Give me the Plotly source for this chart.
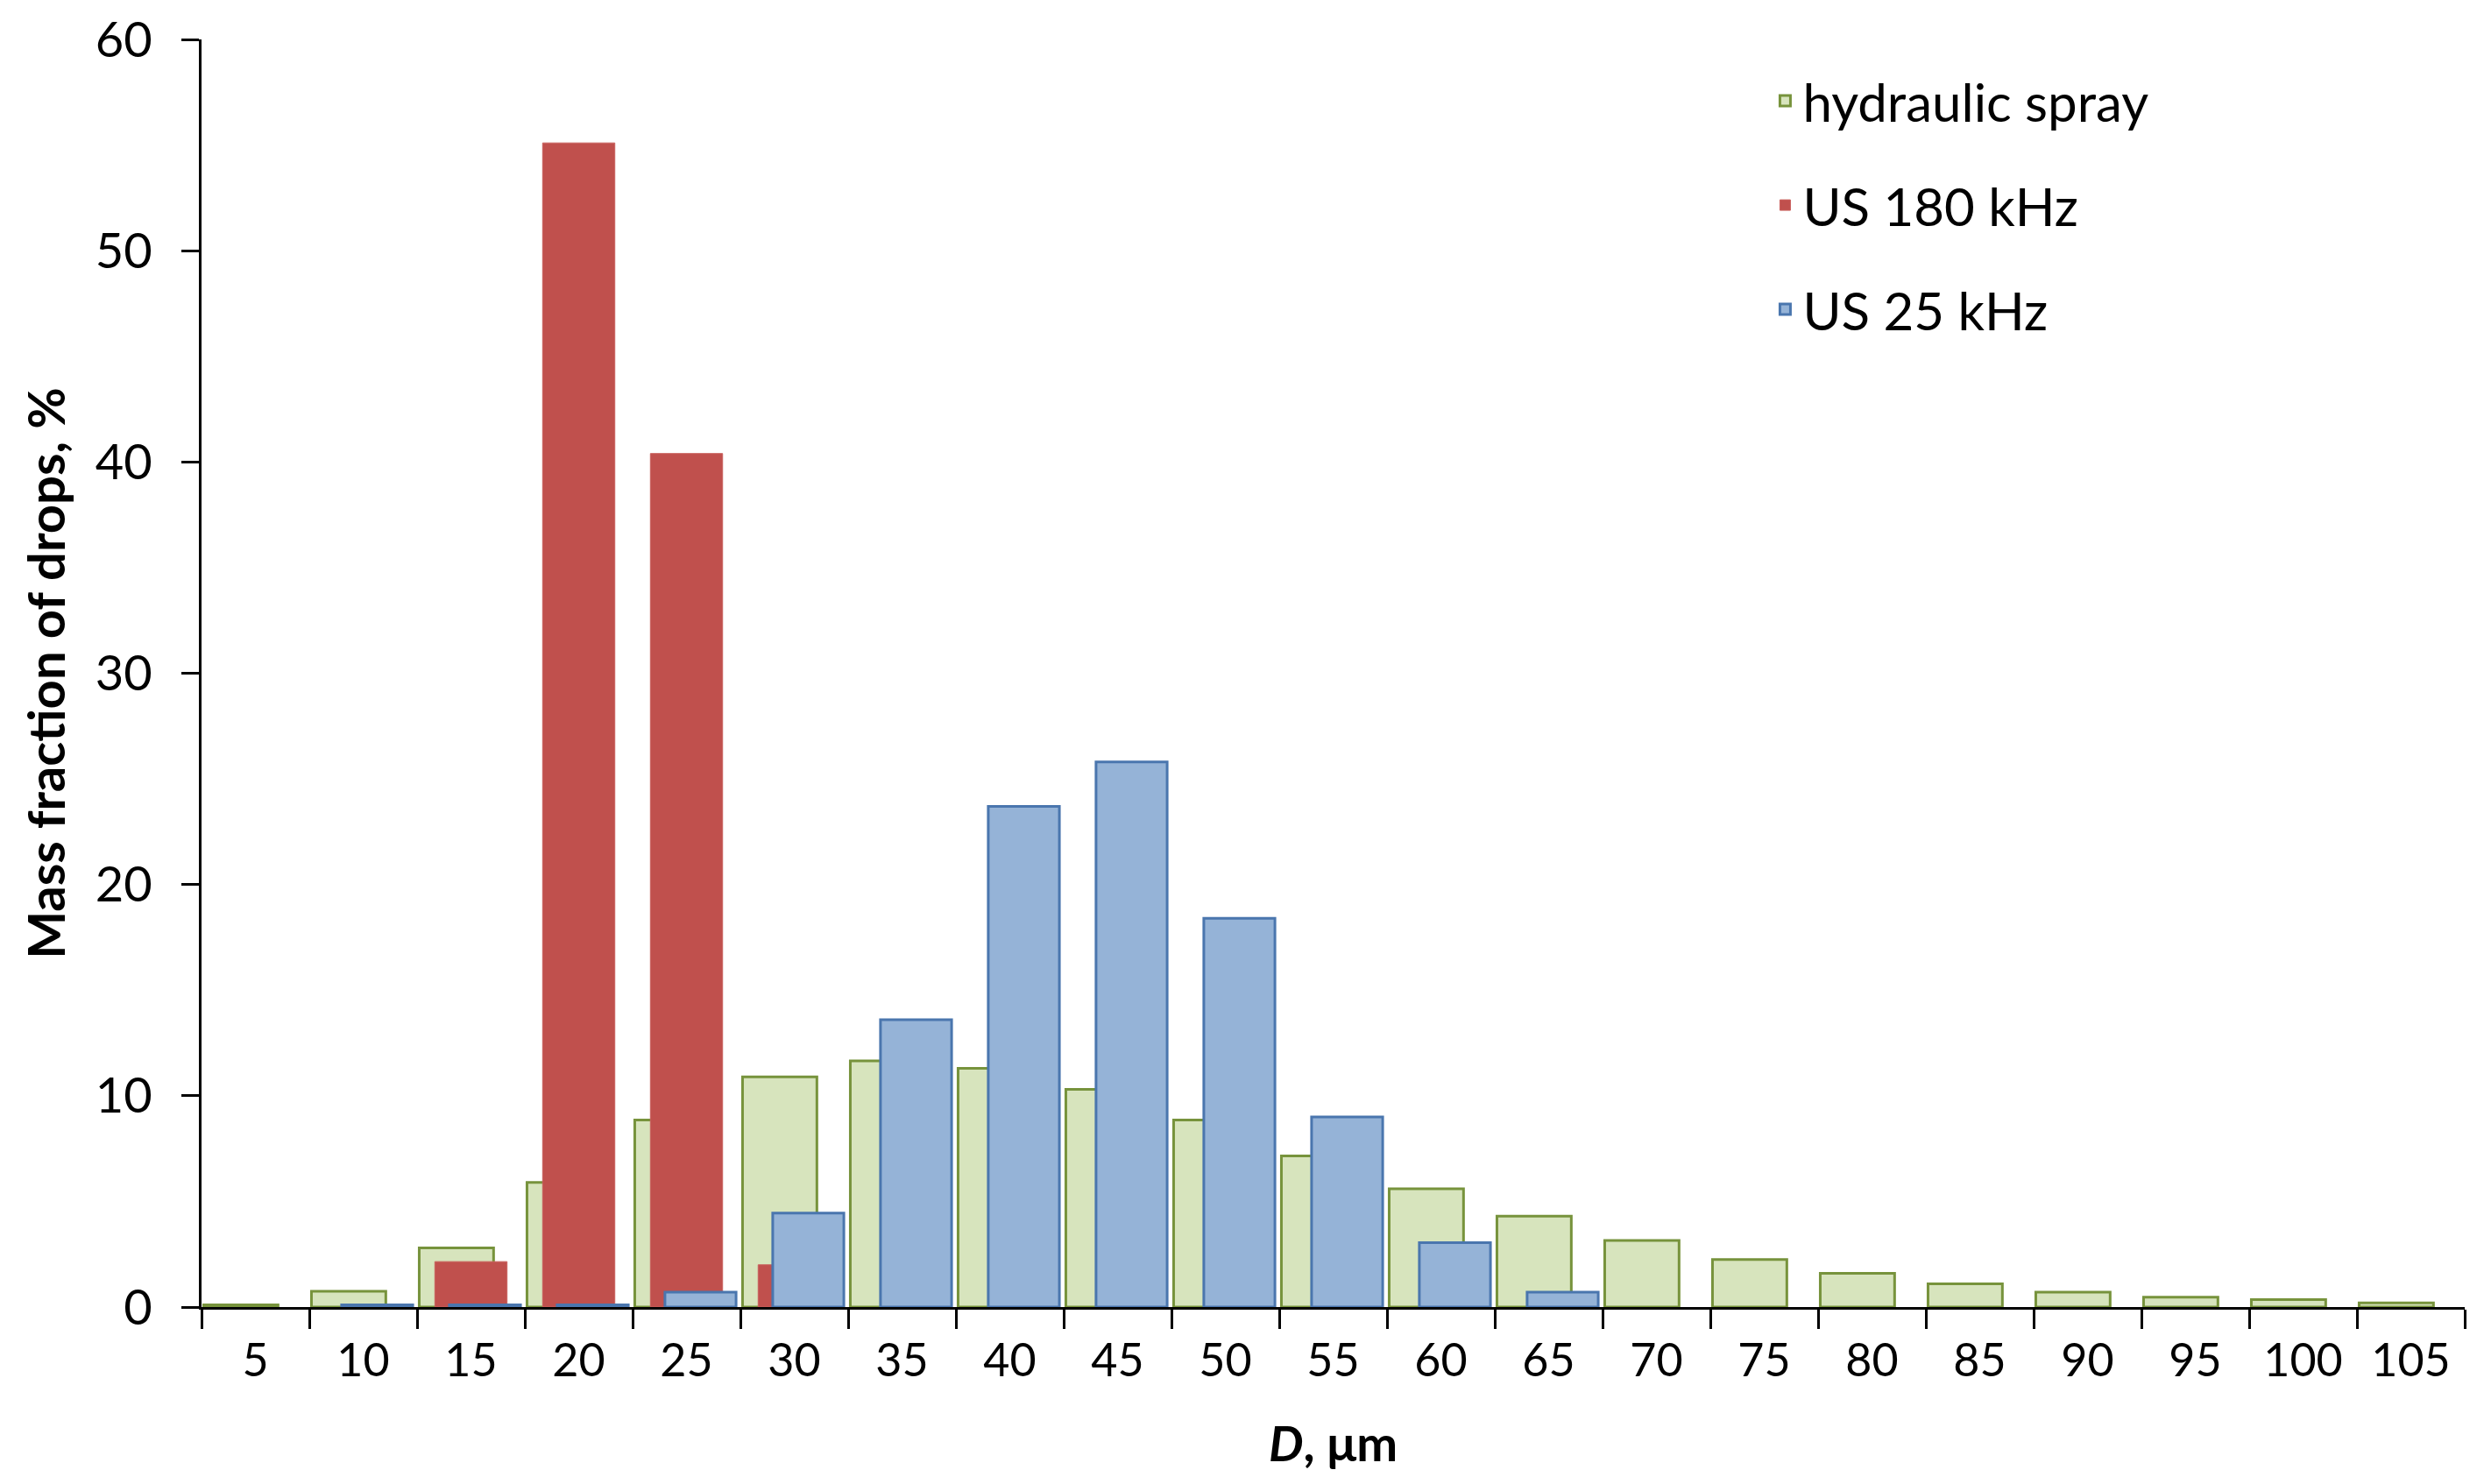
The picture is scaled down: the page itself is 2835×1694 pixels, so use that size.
import plotly.graph_objects as go

diameters = ["5", "10", "15", "20", "25", "30", "35", "40", "45", "50", "55",
             "60", "65", "70", "75", "80", "85", "90", "95", "100", "105"]
hydraulic_spray = [0.1, 0.75, 2.8, 5.9, 8.85, 10.9, 11.65, 11.3, 10.3, 8.85, 7.15,
                   5.6, 4.3, 3.15, 2.25, 1.6, 1.1, 0.7, 0.47, 0.35, 0.2]
us_180 = [None, None, 2.15, 55.1, 40.4, 2.0, None, None, None, None, None,
          None, None, None, None, None, None, None, None, None, None]
us_25 = [None, 0.1, 0.1, 0.1, 0.7, 4.45, 13.6, 23.7, 25.8, 18.4, 9.0,
         3.05, 0.7, None, None, None, None, None, None, None, None]

FONT = "Lato"
fig = go.Figure()
fig.add_trace(go.Bar(x=diameters, y=hydraulic_spray, name="hydraulic spray",
                     width=0.69, offset=-0.48, legendgroup="a",
                     marker=dict(color="#D7E4BD", line=dict(color="#77933C", width=3))))
fig.add_trace(go.Bar(x=diameters, y=us_180, name="US 180 kHz",
                     width=0.67, offset=-0.335, legendgroup="b",
                     marker=dict(color="#C0504D", line=dict(color="#C9605D", width=1))))
fig.add_trace(go.Bar(x=diameters, y=us_25, name="US 25 kHz",
                     width=0.66, offset=-0.2, legendgroup="c",
                     marker=dict(color="#95B3D7", line=dict(color="#4A76AE", width=3))))

fig.update_layout(
    width=2835, height=1694,
    barmode="overlay",
    plot_bgcolor="white", paper_bgcolor="white",
    margin=dict(l=222, r=30, t=37, b=210),
    font=dict(family=FONT, size=52, color="#000000"),
    showlegend=True,
    legend=dict(x=0.692, y=0.983, xanchor="left", yanchor="top",
                font=dict(family=FONT, size=60, color="#000000"),
                traceorder="grouped", tracegroupgap=38,
                bgcolor="rgba(0,0,0,0)"),
    xaxis=dict(
        type="category", range=[-0.5, 20.5], automargin=False,
        showline=True, linecolor="#000000", linewidth=3,
        ticks="outside", tickson="boundaries", ticklen=22, tickwidth=3, tickcolor="#000000",
        tickfont=dict(family=FONT, size=52, color="#000000"),
        ticklabelstandoff=14,
        title=dict(text="<b><i>D</i>, μm</b>", font=dict(family=FONT, size=56), standoff=48),
        showgrid=False, zeroline=False,
    ),
    yaxis=dict(
        range=[0, 60], tickvals=[0, 10, 20, 30, 40, 50, 60], automargin=False,
        showline=True, linecolor="#000000", linewidth=3,
        ticks="outside", ticklen=20, tickwidth=3, tickcolor="#000000",
        tickfont=dict(family=FONT, size=56, color="#000000"),
        ticklabelstandoff=22,
        title=dict(text="<b>Mass fraction of drops, %</b>", font=dict(family=FONT, size=58), standoff=16),
        showgrid=False, zeroline=False,
    ),
)

fig.write_html("out.html")
